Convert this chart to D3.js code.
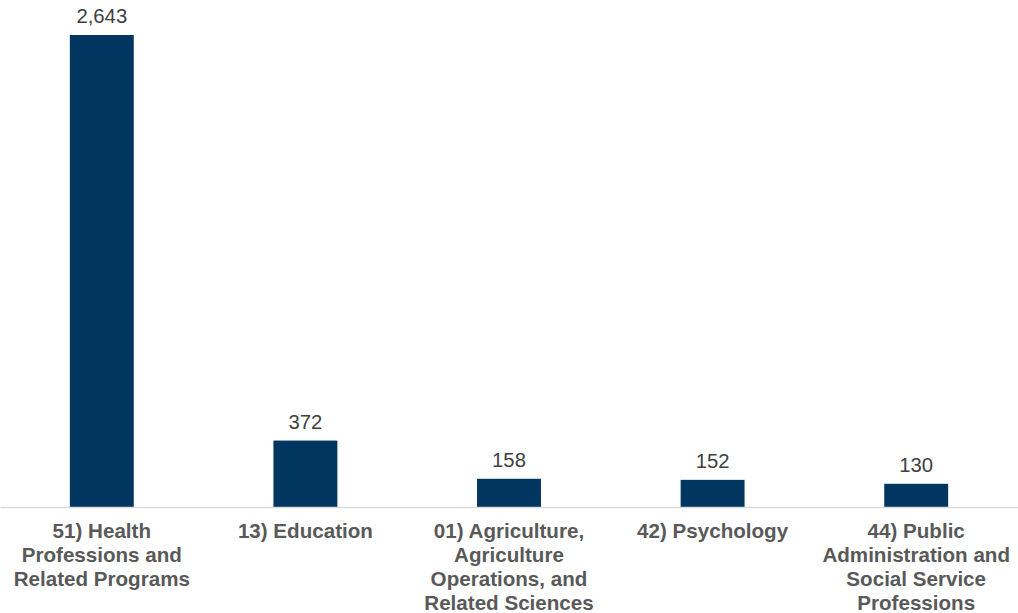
<!DOCTYPE html>
<html>
<head>
<meta charset="utf-8">
<script src="https://cdn.jsdelivr.net/npm/d3@7"></script>
<style>
  body { margin: 0; background: #fff; }
  svg { display: block; font-family: Arial, "Liberation Sans", sans-serif; }
</style>
</head>
<body>
<div id="chart"></div>
<script>
// data
var categories = [
  "51) Health Professions and Related Programs",
  "13) Education",
  "01) Agriculture, Agriculture Operations, and Related Sciences",
  "42) Psychology",
  "44) Public Administration and Social Service Professions"
];
var values = [2643, 372, 158, 152, 130];
// how the tick labels break into lines
var tickLines = [
  ["51) Health", "Professions and", "Related Programs"],
  ["13) Education"],
  ["01) Agriculture,", "Agriculture", "Operations, and", "Related Sciences"],
  ["42) Psychology"],
  ["44) Public", "Administration and", "Social Service", "Professions"]
];

var svgWidth = 1018;
var svgHeight = 613;
var baseY = 507;
var topY = 35;

var svg = d3.select("#chart")
  .append("svg")
  .attr("width", svgWidth)
  .attr("height", svgHeight);

var x = d3.scaleBand()
  .domain(categories)
  .range([0, svgWidth])
  .paddingInner(0.686)
  .paddingOuter(0.343);

var y = d3.scaleLinear()
  .domain([0, d3.max(values)])
  .range([baseY, topY]);

var data = categories.map(function(c, i) {
  return { cat: c, value: values[i], lines: tickLines[i] };
});

// bars
svg.selectAll("rect.bar")
  .data(data)
  .enter()
  .append("rect")
  .attr("class", "bar")
  .attr("x", d => x(d.cat))
  .attr("y", d => y(d.value))
  .attr("width", x.bandwidth())
  .attr("height", d => baseY - y(d.value))
  .attr("fill", "#003660");

// value labels
svg.selectAll("text.val")
  .data(data)
  .enter()
  .append("text")
  .attr("class", "val")
  .attr("x", d => x(d.cat) + x.bandwidth() / 2)
  .attr("y", d => y(d.value) - 12)
  .attr("text-anchor", "middle")
  .attr("font-size", "20.3px")
  .attr("fill", "#404040")
  .text(d => d3.format(",")(d.value));

// x axis
var xAxis = svg.append("g")
  .attr("transform", `translate(0, ${baseY})`)
  .call(d3.axisBottom(x).tickSize(0).tickFormat(""));

xAxis.select(".domain")
  .attr("stroke", "#d9d9d9")
  .attr("stroke-width", 1.5);

// multi-line category labels
var labels = svg.selectAll("text.cat")
  .data(data)
  .enter()
  .append("text")
  .attr("class", "cat")
  .attr("text-anchor", "middle")
  .attr("font-size", "20.6px")
  .attr("font-weight", "bold")
  .attr("fill", "#595959");

labels.each(function(d) {
  var t = d3.select(this);
  d.lines.forEach(function(line, i) {
    t.append("tspan")
      .attr("x", x(d.cat) + x.bandwidth() / 2)
      .attr("y", 538 + i * 24)
      .text(line);
  });
});
</script>
</body>
</html>
